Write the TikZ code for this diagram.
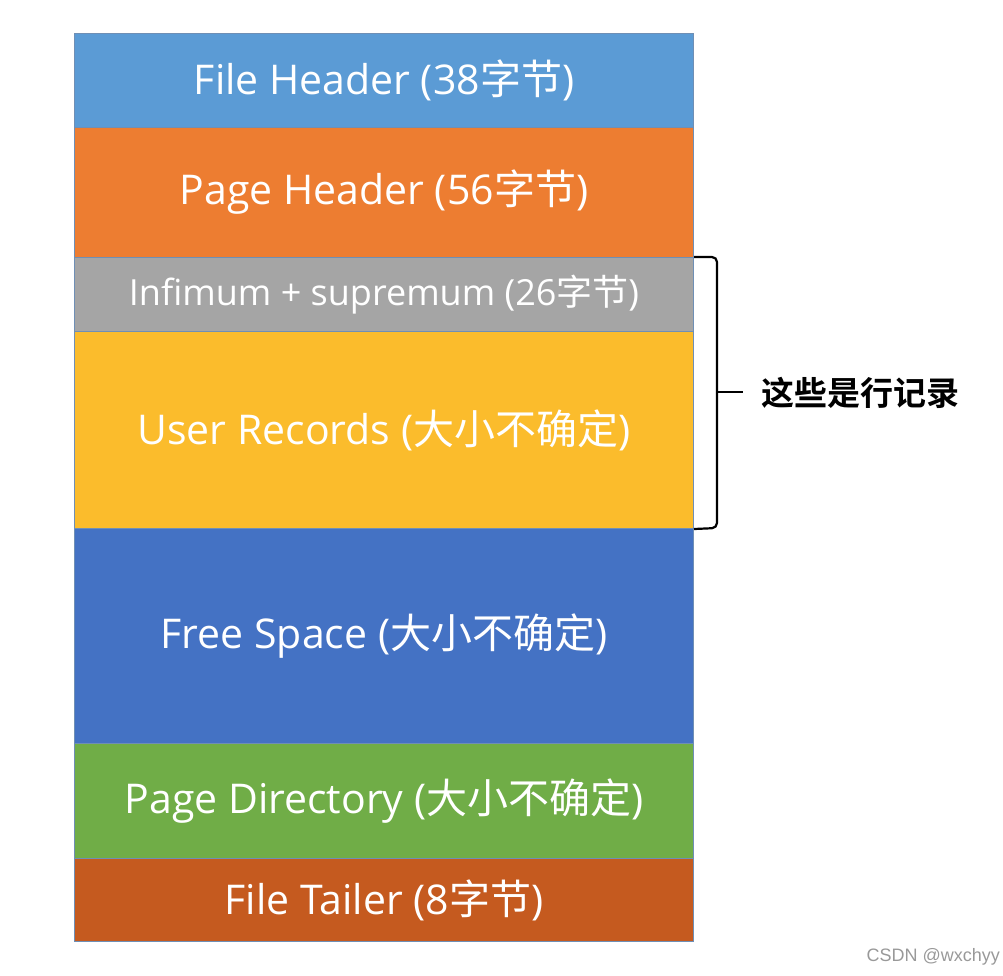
\documentclass[tikz,border=0pt]{standalone}
\usepackage{fontspec}
\setmainfont{Open Sans}
\newfontfamily\zh{Noto Sans CJK SC}
\newfontfamily\cjkbold{Noto Sans CJK SC Bold}
\newfontfamily\wmfont{Liberation Sans}
\definecolor{cFH}{HTML}{5B9BD5}
\definecolor{cPH}{HTML}{ED7D31}
\definecolor{cIS}{HTML}{A5A5A5}
\definecolor{cUR}{HTML}{FBBC2C}
\definecolor{cFS}{HTML}{4472C4}
\definecolor{cPD}{HTML}{70AD47}
\definecolor{cFT}{HTML}{C55A1F}
\definecolor{cEdge}{HTML}{6F8FB5}
\begin{document}
\begin{tikzpicture}[x=1pt,y=-1pt,
  seg/.style={draw=cEdge,line width=1pt,minimum width=619pt,inner sep=0pt,anchor=north west,text=white,font=\fontsize{41}{41}\selectfont},
  bracepath/.style={draw=black,line width=2.2pt,rounded corners=5pt}]
\useasboundingbox (0,0) rectangle (1003,975);
\node[seg,fill=cFH,minimum height=94pt] (fh) at (74,33) {File Header (38{\zh 字节})};
\node[seg,fill=cPH,minimum height=130pt] (ph) at (74,127) {Page Header (56{\zh 字节})};
\node[seg,fill=cIS,minimum height=74pt,font=\fontsize{36}{36}\selectfont] (is) at (74,257) {Infimum + supremum (26{\zh 字节})};
\node[seg,fill=cUR,minimum height=197pt] (ur) at (74,331) {User Records ({\zh 大小不确定})};
\node[seg,fill=cFS,minimum height=215pt] (fs) at (74,528) {Free Space ({\zh 大小不确定})};
\node[seg,fill=cPD,minimum height=115pt] (pd) at (74,743) {Page Directory ({\zh 大小不确定})};
\node[seg,fill=cFT,minimum height=83pt] (ft) at (74,858) {File Tailer (8{\zh 字节})};
\coordinate (bt) at (717,257);
\coordinate (bm) at (717,392);
\coordinate (bb) at (717,528);
\coordinate (tip) at (743,392);
\draw[bracepath] (is.north east) -- (bt) -- (bm);
\draw[bracepath] (ur.south east) -- (bb) -- (bm);
\draw[line width=2.2pt] (bm) -- (tip);
\node[anchor=west,inner sep=0pt,font=\cjkbold\fontsize{33}{33}\selectfont] (lab) at (761,393) {这些是行记录};
\node[anchor=east,inner sep=0pt,text=black!40,font=\wmfont\fontsize{18}{18}\selectfont] (wm) at (1000,957) {CSDN @wxchyy};
\end{tikzpicture}
\end{document}
